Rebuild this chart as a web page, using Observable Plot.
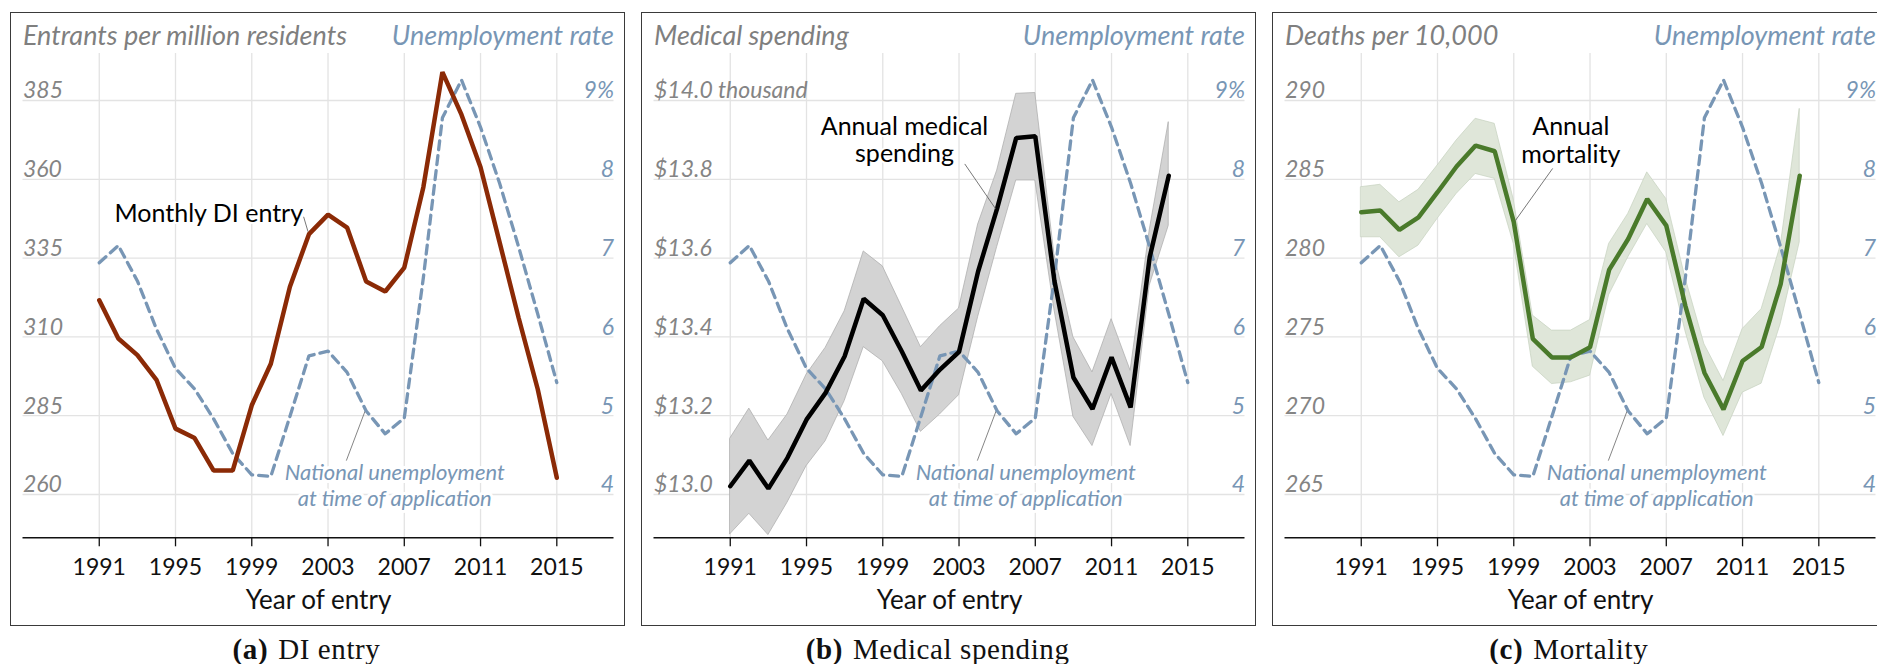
<!DOCTYPE html>
<html>
<head>
<meta charset="utf-8">
<script src="https://cdn.jsdelivr.net/npm/d3@7"></script>
<script src="https://cdn.jsdelivr.net/npm/@observablehq/plot@0.6"></script>
<style>
  html, body { margin: 0; padding: 0; background: #fff; }
  body { width: 1877px; height: 664px; overflow: hidden; position: relative; font-family: Lato, "Open Sans", sans-serif; }
  .box { position: absolute; top: 12px; width: 615px; height: 614px; box-sizing: border-box; border: 1.4px solid #3a3a3a; }
  .chart { position: absolute; top: 12px; }
  .cap { position: absolute; top: 632px; width: 400px; text-align: center; font-family: "Liberation Serif", "DejaVu Serif", serif; font-size: 29px; letter-spacing: 0.6px; line-height: 34px; color: #111; }
  .cap b { margin-right: 10px; }
</style>
</head>
<body>
<script>
// ---------- data ----------
const years = [1991, 1992, 1993, 1994, 1995, 1996, 1997, 1998, 1999, 2000, 2001, 2002, 2003,
               2004, 2005, 2006, 2007, 2008, 2009, 2010, 2011, 2012, 2013, 2014, 2015];
// national unemployment at time of application (%)
const unemployment = [6.94, 7.16, 6.71, 6.10, 5.60, 5.34, 4.96, 4.52, 4.25, 4.23, 4.99, 5.76, 5.82,
                      5.55, 5.06, 4.77, 4.97, 6.75, 8.78, 9.26, 8.66, 7.95, 7.14, 6.29, 5.42];

// (a) DI entrants per million residents, 1991-2015
const diEntry = [321.6, 309.5, 304.2, 296.4, 280.9, 277.9, 267.6, 267.6, 288.3, 301.5, 325.9, 342.6, 348.8,
                 344.7, 327.6, 324.4, 332.0, 357.5, 394.0, 380.5, 363.8, 340.0, 316.0, 293.4, 265.3];

// (b) annual medical spending ($ thousand), 1991-2014
const medYears = years.slice(0, 24);
const medSpending = [13.021, 13.086, 13.015, 13.093, 13.190, 13.258, 13.351, 13.497, 13.455, 13.363, 13.264, 13.317,
                     13.362, 13.566, 13.726, 13.905, 13.909, 13.543, 13.297, 13.217, 13.348, 13.221, 13.602, 13.809];
const medUpper = [13.142, 13.218, 13.137, 13.203, 13.304, 13.372, 13.465, 13.617, 13.579, 13.477, 13.374, 13.427,
                  13.472, 13.685, 13.822, 14.017, 14.019, 13.610, 13.399, 13.310, 13.445, 13.314, 13.670, 13.945];
const medLower = [12.899, 12.951, 12.897, 12.979, 13.072, 13.135, 13.237, 13.374, 13.338, 13.255, 13.159, 13.203,
                  13.252, 13.450, 13.628, 13.797, 13.797, 13.470, 13.197, 13.123, 13.255, 13.123, 13.530, 13.682];

// (c) annual mortality (deaths per 10,000), 1991-2014
const mortYears = years.slice(0, 24);
const mortality = [282.91, 283.02, 281.79, 282.59, 284.18, 285.81, 287.14, 286.78, 282.28, 274.87, 273.70, 273.70,
                   274.34, 279.25, 281.21, 283.75, 282.06, 276.97, 272.73, 270.40, 273.47, 274.36, 278.35, 285.23];
const mortUpper = [284.50, 284.65, 283.54, 284.33, 285.87, 287.46, 288.84, 288.52, 283.70, 276.35, 275.40, 275.40,
                   276.07, 280.90, 282.80, 285.44, 283.75, 278.77, 274.53, 272.20, 275.49, 276.76, 280.78, 289.47];
const mortLower = [281.32, 281.32, 280.05, 280.79, 282.49, 284.07, 285.34, 285.03, 280.90, 273.11, 272.01, 272.12,
                   272.54, 277.65, 280.04, 282.16, 280.36, 275.38, 271.14, 268.71, 271.46, 272.03, 275.81, 281.00];

// ticks and labels
const xTicks = [1991, 1995, 1999, 2003, 2007, 2011, 2015];
const unempTicks = [4, 5, 6, 7, 8, 9];
const unempLabels = ["4", "5", "6", "7", "8", "9%"];
const diTicks = [260, 285, 310, 335, 360, 385];
const diLabels = ["260", "285", "310", "335", "360", "385"];
const medTicks = [13.0, 13.2, 13.4, 13.6, 13.8, 14.0];
const medLabels = ["$13.0", "$13.2", "$13.4", "$13.6", "$13.8", "$14.0 thousand"];
const mortTicks = [265, 270, 275, 280, 285, 290];
const mortLabels = ["265", "270", "275", "280", "285", "290"];

// ---------- drawing ----------
const FONT = "Lato, 'Open Sans', sans-serif";
const BLUE = "#7896b5";
const GRAY = "#848484";
const GRID = "#e3e3e3";

const panels = [
  {
    left: 10, base: 260, step: 25, ticks: diTicks, labels: diLabels,
    title: "Entrants per million residents", caption: ["(a)", "DI entry"],
    years: years, values: diEntry, color: "#8b2a06",
    note: {x: 1991.8, y: 346.5, text: "Monthly DI entry", anchor: "start"},
    leader: {x1: 2001.72, y1: 348.1, x2: 2001.95, y2: 343.4}
  },
  {
    left: 641.15, base: 13.0, step: 0.2, ticks: medTicks, labels: medLabels,
    title: "Medical spending", caption: ["(b)", "Medical spending"],
    years: medYears, values: medSpending, lo: medLower, hi: medUpper, color: "#000",
    bandFill: "#d3d3d3", bandStroke: "#a9a9a9",
    note: {x: 2000.14, y: 13.843, text: "Annual medical\nspending", anchor: "middle"},
    leader: {x1: 2003.3, y1: 13.839, x2: 2004.92, y2: 13.725}
  },
  {
    left: 1272.3, base: 265, step: 5, ticks: mortTicks, labels: mortLabels,
    title: "Deaths per 10,000", caption: ["(c)", "Mortality"],
    years: mortYears, values: mortality, lo: mortLower, hi: mortUpper, color: "#4a7a2b",
    bandFill: "#dfe6d9", bandStroke: "#c6d1bf",
    note: {x: 2001.99, y: 286.05, text: "Annual\nmortality", anchor: "middle"},
    leader: {x1: 2001.04, y1: 285.69, x2: 1999.09, y2: 282.39}
  }
];

for (const p of panels) {
  const f = u => p.base + p.step * (u - 4);
  const yDomain = [f(3.4505), f(9.5964)];
  const unempRows = years.map((year, i) => ({year, u: unemployment[i]}));
  const rows = p.years.map((year, i) => ({year, v: p.values[i], lo: p.lo ? p.lo[i] : null, hi: p.hi ? p.hi[i] : null}));
  const leftLabel = new Map(p.ticks.map((t, i) => [t, p.labels[i]]));
  const rightTicks = unempTicks.map(f);
  const rightLabel = new Map(rightTicks.map((t, i) => [t, unempLabels[i]]));

  const marks = [
    Plot.gridX(xTicks, {stroke: GRID, strokeOpacity: 1, strokeWidth: 1.3}),
    Plot.gridY(p.ticks, {stroke: GRID, strokeOpacity: 1, strokeWidth: 1.3})
  ];
  if (p.lo) {
    marks.push(Plot.areaY(rows, {x: "year", y1: "lo", y2: "hi", fill: p.bandFill, stroke: p.bandStroke, strokeWidth: 0.7}));
  }
  marks.push(
    // label for unemployment line
    Plot.link([{x1: 2003.96, u1: 4.43, x2: 2004.96, u2: 5.07}],
      {x1: "x1", y1: d => f(d.u1), x2: "x2", y2: d => f(d.u2), stroke: "#666", strokeWidth: 0.8}),
    Plot.text([{x: 2006.5, u: 3.852, t: "National unemployment\nat time of application"}],
      {x: "x", y: d => f(d.u), text: "t", textAnchor: "middle", lineAnchor: "bottom", lineHeight: 1.2,
       fontSize: 22, fontStyle: "italic", fontFamily: FONT, fill: BLUE, stroke: "white", strokeWidth: 6, paintOrder: "stroke"}),
    Plot.line(unempRows, {x: "year", y: d => f(d.u), stroke: BLUE, strokeWidth: 3.3, strokeDasharray: "9,6"}),
    Plot.line(rows, {x: "year", y: "v", stroke: p.color, strokeWidth: 4.5, strokeLinejoin: "miter"}),
    Plot.link([p.leader], {x1: "x1", y1: "y1", x2: "x2", y2: "y2", stroke: "#555", strokeWidth: 0.8}),
    Plot.text([p.note], {x: "x", y: "y", text: "text", textAnchor: p.note.anchor, lineAnchor: "bottom", lineHeight: 1.1,
       fontSize: 25, fontFamily: FONT, fill: "#000", stroke: "white", strokeWidth: 4, paintOrder: "stroke"}),
    // axes
    Plot.ruleY([yDomain[0]], {stroke: "#111", strokeWidth: 1.5}),
    Plot.axisX(xTicks, {tickSize: 9, tickPadding: 12, fontSize: 23, fontFamily: FONT, color: "#111", strokeWidth: 1.3,
       tickFormat: d => String(d), label: null}),
    Plot.axisY(p.ticks, {anchor: "left", tickSize: 0, tickPadding: 0, textAnchor: "start", lineAnchor: "bottom", dy: -2,
       fontSize: 23, fontStyle: "italic", fontFamily: FONT, color: GRAY, tickFormat: d => leftLabel.get(d), label: null}),
    Plot.axisY(rightTicks, {anchor: "right", tickSize: 0, tickPadding: 0, textAnchor: "end", lineAnchor: "bottom", dy: -2,
       fontSize: 23, fontStyle: "italic", fontFamily: FONT, color: BLUE, tickFormat: d => rightLabel.get(d), label: null}),
    // titles
    Plot.text([p.title], {frameAnchor: "top-left", textAnchor: "start", lineAnchor: "bottom", dy: -9,
       fontSize: 27, fontStyle: "italic", fontFamily: FONT, fill: "#7f7f7f"}),
    Plot.text(["Unemployment rate"], {frameAnchor: "top-right", textAnchor: "end", lineAnchor: "bottom", dy: -9,
       fontSize: 27, fontStyle: "italic", fontFamily: FONT, fill: BLUE}),
    Plot.text(["Year of entry"], {frameAnchor: "bottom", textAnchor: "middle", lineAnchor: "middle", dy: 63,
       fontSize: 26, fontFamily: FONT, fill: "#111"})
  );

  const chart = Plot.plot({
    width: 615,
    height: 612,
    marginLeft: 12.5,
    marginRight: 11.5,
    marginTop: 41,
    marginBottom: 86.7,
    x: {type: "linear", domain: [1987, 2018]},
    y: {type: "linear", domain: yDomain},
    style: {fontFamily: FONT, background: "transparent", overflow: "visible"},
    marks
  });
  chart.classList.add("chart");
  chart.style.left = p.left + "px";
  document.body.appendChild(chart);

  const box = document.createElement("div");
  box.className = "box";
  box.style.left = p.left + "px";
  document.body.appendChild(box);

  const cap = document.createElement("div");
  cap.className = "cap";
  cap.style.left = (p.left + 307.5 - 11 - 200) + "px";
  cap.innerHTML = "<b>" + p.caption[0] + "</b>" + p.caption[1];
  document.body.appendChild(cap);
}
</script>
</body>
</html>
